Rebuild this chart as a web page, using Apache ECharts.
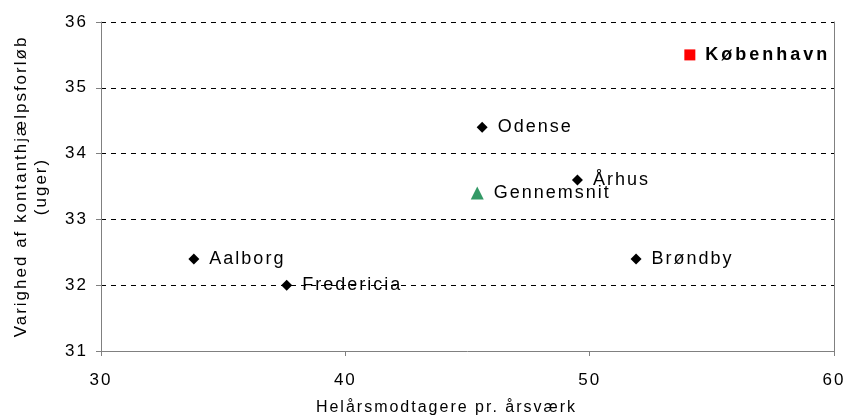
<!DOCTYPE html>
<html>
<head>
<meta charset="utf-8">
<script src="https://cdn.jsdelivr.net/npm/echarts@6/dist/echarts.min.js"></script>
<style>
  html, body { margin: 0; padding: 0; background: #fff; }
  #chart { width: 844px; height: 420px; }
</style>
</head>
<body>
<div id="chart"></div>
<script>
// kommuner (sorte ruder)
const cityNames = ['Odense', 'Århus', 'Aalborg', 'Fredericia', 'Brøndby']
const cityX = [45.6, 49.5, 33.8, 37.6, 51.9]
const cityY = [34.4, 33.6, 32.4, 32.0, 32.4]
// gennemsnit (grøn trekant)
const avgName = ['Gennemsnit']
const avgX = [45.4]
const avgY = [33.4]
// København (rød firkant)
const cphName = ['København']
const cphX = [54.1]
const cphY = [35.5]

const xTicks = [30, 40, 50, 60]
const yTicks = [31, 32, 33, 34, 35, 36]

// the original has widely spaced letters; canvas letterSpacing (also used when measuring)
const getCtx = HTMLCanvasElement.prototype.getContext
HTMLCanvasElement.prototype.getContext = function (type, opts) {
  const ctx = getCtx.call(this, type, opts)
  if (type === '2d' && ctx && 'letterSpacing' in ctx) {
    const fill = ctx.fillText
    const measure = ctx.measureText
    const spacing = () => { ctx.letterSpacing = ctx.font.indexOf('bold') >= 0 ? '3px' : '2px' }
    ctx.fillText = function () { spacing(); return fill.apply(ctx, arguments) }
    ctx.measureText = function () { spacing(); return measure.apply(ctx, arguments) }
  }
  return ctx
}

const toPoints = (names, xs, ys) => names.map((n, i) => ({ name: n, value: [xs[i], ys[i]] }))

const font = 'Liberation Sans, Arial, sans-serif'
const labelStyle = {
  show: true,
  position: 'right',
  distance: 10,
  formatter: '{b}',
  color: '#000',
  fontSize: 18,
  fontFamily: font
}

const option = {
  animation: false,
  grid: { left: 101, right: 10, top: 22, bottom: 69, outerBoundsMode: 'none', containLabel: false },
  xAxis: {
    type: 'value',
    min: xTicks[0],
    max: xTicks[xTicks.length - 1],
    interval: 10,
    name: 'Helårsmodtagere pr. årsværk',
    nameLocation: 'middle',
    nameGap: 48,
    nameTextStyle: { fontSize: 16, fontFamily: font, color: '#000', padding: [0, 42, 0, 0] },
    axisLine: { lineStyle: { color: '#808080', width: 1 } },
    axisTick: { show: true, inside: false, length: 5, lineStyle: { color: '#808080' } },
    axisLabel: { fontSize: 17, fontFamily: font, color: '#000', margin: 20 },
    splitLine: { show: false }
  },
  yAxis: [
    {
      type: 'value',
      min: yTicks[0],
      max: yTicks[yTicks.length - 1],
      interval: 1,
      name: 'Varighed af kontanthjælpsforløb\n(uger)',
      nameLocation: 'middle',
      nameGap: 50,
      nameRotate: 90,
      nameTextStyle: { fontSize: 17, fontFamily: font, color: '#000', lineHeight: 20, padding: [0, 0, 0, 0] },
      axisLine: { show: true, lineStyle: { color: '#808080', width: 1 } },
      axisTick: { show: true, inside: false, length: 5, lineStyle: { color: '#808080' } },
      axisLabel: { fontSize: 17, fontFamily: font, color: '#000', margin: 13 },
      splitLine: { show: true, lineStyle: { color: '#000', type: [5, 5], width: 1 } }
    },
    {
      type: 'value',
      position: 'right',
      min: yTicks[0],
      max: yTicks[yTicks.length - 1],
      interval: 1,
      axisLine: { show: true, lineStyle: { color: '#808080', width: 1 } },
      axisTick: { show: false },
      axisLabel: { show: false },
      splitLine: { show: false }
    }
  ],
  series: [
    {
      type: 'scatter',
      symbol: 'diamond',
      symbolSize: 11,
      itemStyle: { color: '#000', opacity: 1 },
      label: labelStyle,
      data: toPoints(cityNames, cityX, cityY)
    },
    {
      type: 'scatter',
      symbol: 'triangle',
      symbolSize: 13,
      itemStyle: { color: '#339966', opacity: 1 },
      label: labelStyle,
      data: toPoints(avgName, avgX, avgY)
    },
    {
      type: 'scatter',
      symbol: 'rect',
      symbolSize: 11,
      itemStyle: { color: '#ff0000', opacity: 1 },
      label: Object.assign({}, labelStyle, { fontWeight: 'bold' }),
      data: toPoints(cphName, cphX, cphY)
    }
  ]
}

const chart = echarts.init(document.getElementById('chart'))
chart.setOption(option)
</script>
</body>
</html>
